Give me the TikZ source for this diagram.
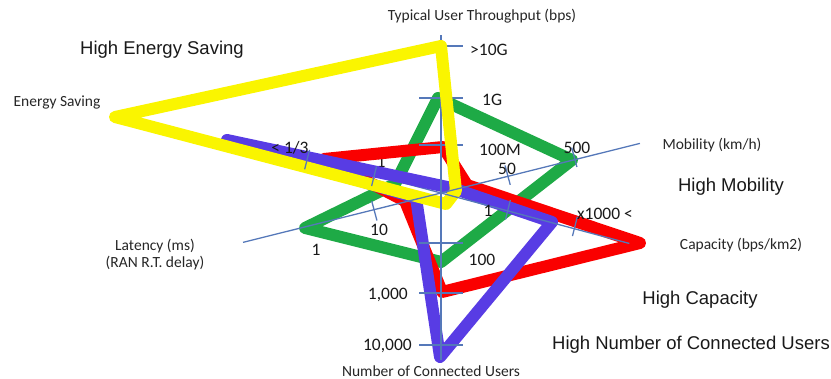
\documentclass[tikz,border=0pt]{standalone}
\usepackage{fontspec}
\usetikzlibrary{calc}
\setmainfont{Carlito}
\newfontfamily\hfont{Liberation Sans}
\definecolor{yband}{RGB}{250,245,0}
\definecolor{gband}{RGB}{30,170,70}
\definecolor{rband}{RGB}{250,0,0}
\definecolor{bband}{RGB}{88,60,228}
\definecolor{axisblue}{RGB}{85,120,185}
\begin{document}
\begin{tikzpicture}[x=1pt,y=-1pt,
  band/.style={line width=12pt,line join=round,line cap=round},
  axisline/.style={draw=axisblue,line width=1.3pt},
  tickline/.style={draw=axisblue,line width=1.3pt},
  lab/.style={font=\fontsize{15.5}{17}\selectfont,inner sep=0pt,text=black!85},
  num/.style={font=\fontsize{17.5}{19}\selectfont,inner sep=0pt,text=black!90},
  big/.style={font=\hfont\fontsize{18.5}{21}\selectfont,inner sep=0pt,text=black!90}]
\useasboundingbox (0,0) rectangle (831,379);
% centre and axis ends
\coordinate (C) at (441,193);
\coordinate (upE) at (441,35);
\coordinate (dnE) at (441,360);
\coordinate (mobE) at ($(C)+(-14:205)$);
\coordinate (capE) at ($(C)+(15:195)$);
\coordinate (latE) at ($(C)+(166:204)$);
\coordinate (enE) at ($(C)+(195:205)$);
% label partly hidden under the bands
\node[num] (v1e) at (381,162) {1};
% green polygon
\coordinate (gT) at (438,98);
\coordinate (gM) at (572,160);
\coordinate (gU) at (441,262);
\coordinate (gL) at (305,228);
\coordinate (gE) at (395,184);
\draw[band,draw=gband] (gT) -- (gM) -- (gU) -- (gL) -- (gE) -- cycle;
% red polygon
\coordinate (rT) at (443,147);
\coordinate (rM) at (467,185);
\coordinate (rC) at (640,243);
\coordinate (rU) at (442,292);
\coordinate (rL) at (405,201);
\coordinate (rE) at (324,159);
\draw[band,draw=rband] (rT) -- (rM) -- (rC) -- (rU) -- (rL) -- (rE) -- cycle;
% energy axis (under the blue and yellow bands)
\draw[axisline] (enE) -- (C);
\draw[tickline,shift={(C)},rotate=195] (69,-10) -- (69,10);
% blue polygon
\coordinate (bE) at (227,140);
\coordinate (bM) at (452,188);
\coordinate (bC) at (552,222);
\coordinate (bU) at (440,357);
\coordinate (bL) at (416,198);
\draw[band,draw=bband] (bE) -- (bM) -- (bC) -- (bU) -- (bL) -- cycle;
% upper axis (under the yellow band)
\draw[axisline] (C) -- (upE);
\foreach \yy in {46,98,145}
  \draw[tickline] (419,\yy) -- (463,\yy);
% yellow polygon
\coordinate (yT) at (441,46);
\coordinate (yM) at (456,191);
\coordinate (yC) at (446,204);
\coordinate (yE) at (115,117);
\draw[band,draw=yband] (yT) -- (yM) -- (yC) -- (yE) -- cycle;
% other axes
\draw[axisline] (C) -- (dnE);
\draw[axisline] (latE) -- (mobE);
\draw[axisline] (C) -- (capE);
\foreach \yy in {243,293,345}
  \draw[tickline] (419,\yy) -- (463,\yy);
\foreach \a in {-14,15,166}
  \foreach \r in {69,138}
    \draw[tickline,shift={(C)},rotate=\a] (\r,-10) -- (\r,10);
% axis labels
\node[lab] (tThr) at (482,16) {Typical User Throughput (bps)};
\node[lab] (tMob) at (712,145) {Mobility (km/h)};
\node[lab] (tCap) at (741,245) {Capacity (bps/km2)};
\node[lab] (tUsr) at (431,371) {Number of Connected Users};
\node[lab,align=center] (tLat) at (155,255) {Latency (ms)\\(RAN R.T. delay)};
\node[lab] (tEn) at (57,103) {Energy Saving};
% value labels
\node[num,anchor=west] (v10G) at (470,50) {>10G};
\node[num,anchor=west] (v1G) at (482,100) {1G};
\node[num,anchor=west] (v100M) at (479,150) {100M};
\node[num] (v50) at (507,169) {50};
\node[num] (v500) at (577,148) {500};
\node[num] (v1c) at (488,211) {1};
\node[num] (vx1000) at (605,214) {x1000 <};
\node[num] (v100) at (482,260) {100};
\node[num,anchor=east] (v1000) at (408,295) {1,000};
\node[num,anchor=east] (v10000) at (412,346) {10,000};
\node[num] (v10) at (379,230) {10};
\node[num] (v1l) at (316,250) {1};
\node[num] (v13) at (290,148) {< 1/3};
% headline labels
\node[big] (hEn) at (162,50) {High Energy Saving};
\node[big] (hMob) at (731,187) {High Mobility};
\node[big] (hCap) at (700,300) {High Capacity};
\node[big] (hUsr) at (691,345) {High Number of Connected Users};
\end{tikzpicture}
\end{document}
